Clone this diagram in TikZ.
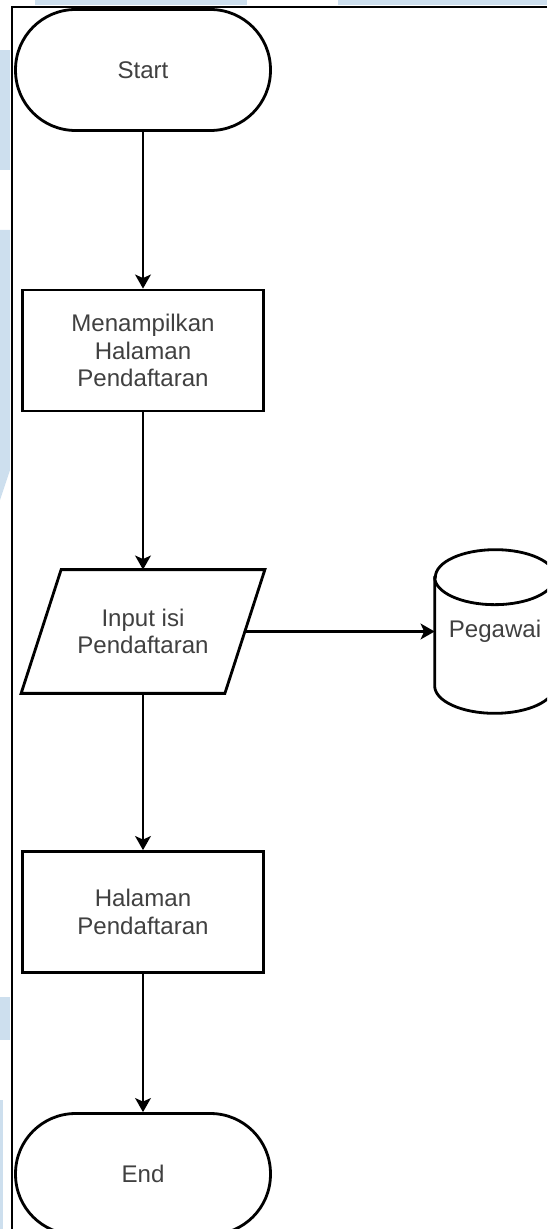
\documentclass[tikz,border=0pt]{standalone}
\usepackage{fontspec}
\setmainfont{Liberation Sans}
\usetikzlibrary{arrows.meta,calc}
\definecolor{bgblue}{HTML}{CDDFEE}
\definecolor{txtgray}{HTML}{404040}

\begin{document}
\begin{tikzpicture}[x=0.02cm,y=-0.02cm,
        shapeline/.style={draw=black,line width=1.6pt,text=txtgray,align=center,inner sep=0pt,
            font=\fontsize{13.7}{15.8}\selectfont},
        terminal/.style={shapeline,rectangle,rounded corners=1.2cm,minimum width=5.1cm,minimum height=2.42cm},
        process/.style={shapeline,rectangle,minimum width=4.82cm,minimum height=2.42cm},
        inputbox/.style={shapeline,draw=none,rectangle,minimum width=4.82cm,minimum height=2.42cm},
        outline/.style={line width=1.6pt},
        flow/.style={line width=1.2pt,-{Stealth[length=8pt,width=9pt,inset=2pt]}}]
            \useasboundingbox (0,0) rectangle (547,1229);
            \clip (0,0) rectangle (547,1229);
            \fill[bgblue] (35,0) rectangle (247,5);
            \fill[bgblue] (338,0) rectangle (547,5);
            \fill[bgblue] (0,50) rectangle (10,170);
            \fill[bgblue] (0,230) -- (10,230) -- (10,470) -- (0,500) -- cycle;
            \fill[bgblue] (0,997) rectangle (10,1040);
            \fill[bgblue] (0,1100) rectangle (3,1229);
            \draw[line width=1.1pt] (547,7) -- (12,7) -- (12,1229);

            \node[terminal] (start) at (143,70) {Start};
            \node[process] (showform) at (143,350.5) {Menampilkan\\Halaman\\Pendaftaran};
            \node[inputbox] (input) at (143,631.5) {Input isi\\Pendaftaran};
            \node[text=txtgray,inner sep=0pt,minimum width=2.4cm,minimum height=3.26cm,
                font=\fontsize{13.7}{15.8}\selectfont] (pegawai) at (495,631.5) {Pegawai};
            \node[process] (formpage) at (143,912) {Halaman\\Pendaftaran};
            \node[terminal] (stop) at (143,1174) {End};

            \draw[outline] ($(input.north west)+(40,0)$) -- (input.north east)
                -- ($(input.south east)+(-40,0)$) -- (input.south west) -- cycle;
            \coordinate (inputedge) at ($(input.east)+(-20,0)$);

            \draw[outline] ($(pegawai.north west)+(0,27.5)$) -- ($(pegawai.south west)+(0,-27.5)$)
                arc[start angle=180,end angle=360,x radius=1.2cm,y radius=0.55cm]
                -- ($(pegawai.north east)+(0,27.5)$)
                arc[start angle=0,end angle=180,x radius=1.2cm,y radius=0.55cm] -- cycle;
            \draw[outline] ($(pegawai.north west)+(0,27.5)$)
                arc[start angle=180,end angle=360,x radius=1.2cm,y radius=0.55cm];

            \draw[flow] (start) -- (showform);
            \draw[flow] (showform) -- (input);
            \draw[flow] (inputedge) -- (pegawai.west);
            \draw[flow] (input) -- (formpage);
            \draw[flow] (formpage) -- (stop);
        \end{tikzpicture}
\end{document}
